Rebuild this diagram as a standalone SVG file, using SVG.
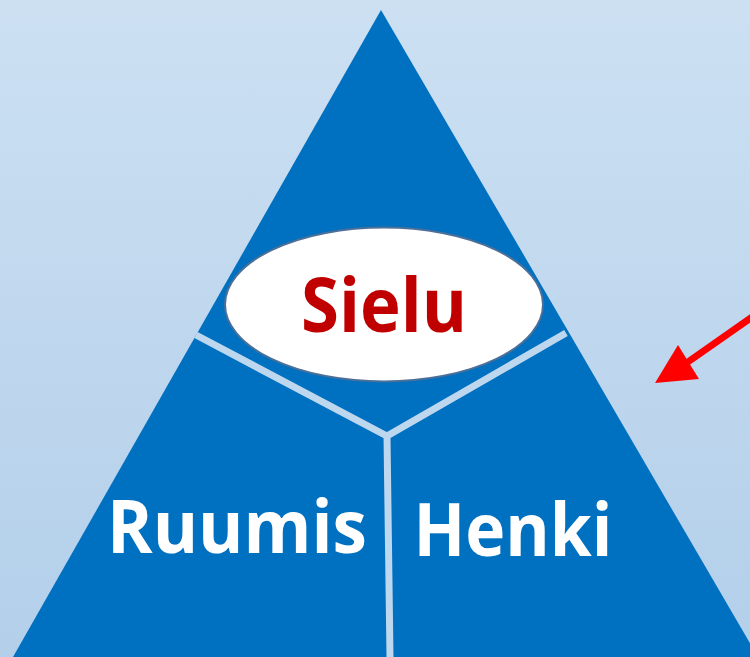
<svg xmlns="http://www.w3.org/2000/svg" width="750" height="657" viewBox="0 0 750 657">
<defs>
<linearGradient id="bg" x1="0" y1="0" x2="0" y2="1">
<stop offset="0" stop-color="#cce0f2"/>
<stop offset="1" stop-color="#b3cfea"/>
</linearGradient>
<style>
.lbl{font-family:"Open Sans","Noto Sans","Liberation Sans",sans-serif;font-weight:bold;text-anchor:middle}
.sep{stroke:#bdd7ee;stroke-width:7;fill:none;stroke-linecap:butt}
</style>
</defs>
<rect width="750" height="657" fill="url(#bg)"/>
<g id="pyramid">
<polygon points="381,10 13,657 758,657" fill="#0070c0"/>
<path class="sep" d="M196,335 L387,436 L566,333 M387,436 L390,657"/>
</g>
<g id="sielu">
<ellipse cx="384" cy="304.5" rx="159" ry="77" fill="#ffffff" stroke="#4a6f98" stroke-width="2"/>
<text class="lbl" x="384" y="332" font-size="76" fill="#c00000" textLength="166" lengthAdjust="spacingAndGlyphs">Sielu</text>
</g>
<g id="ruumis">
<text class="lbl" x="237" y="553" font-size="73" fill="#ffffff" textLength="260" lengthAdjust="spacingAndGlyphs">Ruumis</text>
</g>
<g id="henki">
<text class="lbl" x="513" y="556" font-size="73" fill="#ffffff" textLength="199" lengthAdjust="spacingAndGlyphs">Henki</text>
</g>
<g id="connectors">
<line x1="752" y1="317" x2="685" y2="364" stroke="#ff0000" stroke-width="7"/>
<polygon points="655,383 678,345 699,379" fill="#ff0000"/>
</g>
</svg>
